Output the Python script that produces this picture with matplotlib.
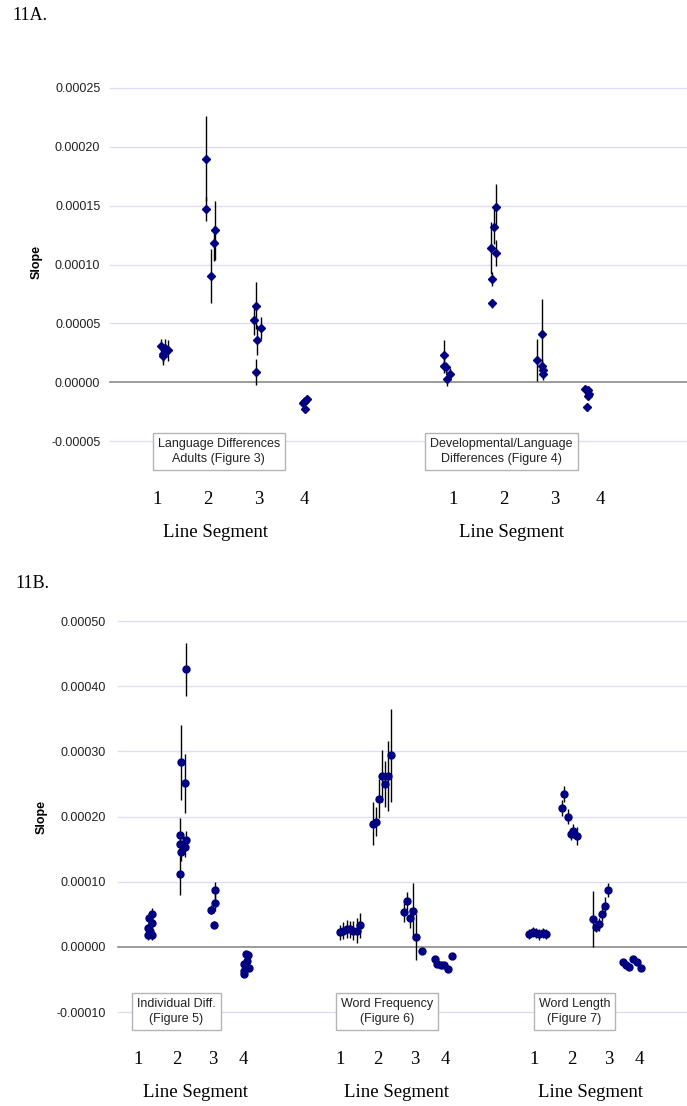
#!/usr/bin/env python3
"""Slope estimates per line segment with error bars (Figure 11A / 11B)."""
import numpy as np
import matplotlib
matplotlib.use("Agg")
import matplotlib.pyplot as plt
from matplotlib.ticker import FormatStrFormatter

plt.rcParams["font.family"] = ["Liberation Sans", "DejaVu Sans"]

# ---- 11A: language difference studies (x = line segment + jitter) ----
ADULT_X = [1.08, 1.13, 1.16, 1.22, 1.12,
           1.99, 2.01, 2.18, 2.16, 2.10,
           3.03, 2.97, 3.12, 3.05, 3.03,
           4.07, 4.03, 3.97, 4.03, 4.00]
ADULT_SLOPE = [3.1e-5, 2.4e-5, 2.9e-5, 2.7e-5, 2.2e-5,
               1.90e-4, 1.47e-4, 1.29e-4, 1.18e-4, 0.90e-4,
               6.5e-5, 5.3e-5, 4.6e-5, 3.6e-5, 0.9e-5,
               -1.4e-5, -1.6e-5, -1.8e-5, -2.3e-5, -1.7e-5]
ADULT_ERR = [0.6e-5, 0.7e-5, 0.8e-5, 0.9e-5, 0.7e-5,
             3.6e-5, 1.0e-5, 2.5e-5, 1.5e-5, 2.3e-5,
             2.0e-5, 1.3e-5, 0.9e-5, 1.3e-5, 1.1e-5,
             0.1e-5, 0.1e-5, 0.1e-5, 0.1e-5, 0.1e-5]

DEVEL_X = [6.86, 6.86, 6.90, 6.97, 6.92,
           7.92, 7.88, 7.82, 7.92, 7.84, 7.84,
           8.86, 8.76, 8.86, 8.87, 8.87,
           9.73, 9.79, 9.81, 9.80, 9.77]
DEVEL_SLOPE = [2.3e-5, 1.4e-5, 1.25e-5, 0.7e-5, 0.3e-5,
               1.49e-4, 1.32e-4, 1.14e-4, 1.10e-4, 0.88e-4, 0.67e-4,
               4.1e-5, 1.9e-5, 1.4e-5, 1.0e-5, 0.7e-5,
               -0.6e-5, -0.7e-5, -1.0e-5, -1.2e-5, -2.1e-5]
DEVEL_ERR = [1.3e-5, 0.6e-5, 0.5e-5, 0.5e-5, 0.6e-5,
             1.9e-5, 1.5e-5, 2.2e-5, 1.1e-5, 0.6e-5, 0.4e-5,
             3.0e-5, 1.8e-5, 0.6e-5, 0.5e-5, 0.5e-5,
             0.1e-5, 0.1e-5, 0.1e-5, 0.1e-5, 0.1e-5]

# ---- 11B: individual differences, word frequency, word length ----
INDIV_X = [1.38, 1.29, 1.38, 1.27, 1.36, 1.27, 1.32,
           2.31, 2.19, 2.28, 2.16, 2.31, 2.16, 2.28, 2.19, 2.16,
           3.11, 3.11, 3.02, 3.09,
           3.97, 4.03, 4.00, 3.93, 4.06, 3.93, 3.93]
INDIV_SLOPE = [5.1e-5, 4.4e-5, 3.6e-5, 2.9e-5, 1.8e-5, 1.8e-5, 2.5e-5,
               4.26e-4, 2.83e-4, 2.51e-4, 1.72e-4, 1.64e-4, 1.58e-4, 1.53e-4, 1.46e-4, 1.12e-4,
               8.7e-5, 6.8e-5, 5.7e-5, 3.4e-5,
               -1.1e-5, -1.3e-5, -2.1e-5, -2.7e-5, -3.3e-5, -3.7e-5, -4.2e-5]
INDIV_ERR = [0.8e-5, 0.8e-5, 0.8e-5, 0.8e-5, 0.8e-5, 0.8e-5, 0.8e-5,
             4.1e-5, 5.8e-5, 4.5e-5, 2.5e-5, 1.3e-5, 1.5e-5, 1.5e-5, 1.5e-5, 3.3e-5,
             1.3e-5, 1.3e-5, 0.7e-5, 0.5e-5,
             0.1e-5, 0.1e-5, 0.1e-5, 0.1e-5, 0.1e-5, 0.1e-5, 0.1e-5]

FREQ_X = [6.59, 6.69, 6.78, 6.87, 6.96, 7.06, 7.15,
          7.50, 7.59, 7.67, 7.75, 7.84, 7.93, 8.02,
          8.37, 8.45, 8.53, 8.62, 8.71, 8.88,
          9.23, 9.30, 9.39, 9.48, 9.60, 9.70]
FREQ_SLOPE = [2.2e-5, 2.5e-5, 2.7e-5, 2.7e-5, 2.5e-5, 2.5e-5, 3.3e-5,
              1.89e-4, 1.92e-4, 2.27e-4, 2.62e-4, 2.50e-4, 2.62e-4, 2.94e-4,
              5.3e-5, 7.0e-5, 4.4e-5, 5.5e-5, 1.5e-5, -0.7e-5,
              -1.8e-5, -2.6e-5, -2.8e-5, -2.8e-5, -3.4e-5, -1.4e-5]
FREQ_ERR = [1.1e-5, 1.3e-5, 1.4e-5, 1.3e-5, 1.5e-5, 1.9e-5, 1.9e-5,
            3.3e-5, 2.2e-5, 3.0e-5, 4.0e-5, 3.5e-5, 5.4e-5, 7.1e-5,
            1.5e-5, 1.4e-5, 1.5e-5, 4.3e-5, 3.5e-5, 0.0,
            0.0, 0.0, 0.0, 0.0, 0.0, 0.0]

LENGTH_X = [11.85, 11.95, 12.04, 12.13, 12.23, 12.32,
            12.75, 12.83, 12.92, 13.01, 13.07, 13.19,
            13.61, 13.70, 13.78, 13.87, 13.96, 14.05,
            14.46, 14.54, 14.62, 14.74, 14.84, 14.95]
LENGTH_SLOPE = [2.0e-5, 2.3e-5, 2.1e-5, 1.9e-5, 2.1e-5, 2.0e-5,
                2.13e-4, 2.35e-4, 2.00e-4, 1.73e-4, 1.78e-4, 1.70e-4,
                4.2e-5, 3.0e-5, 3.5e-5, 5.0e-5, 6.2e-5, 8.7e-5,
                -2.4e-5, -2.8e-5, -3.1e-5, -1.8e-5, -2.4e-5, -3.3e-5]
LENGTH_ERR = [0.8e-5, 0.8e-5, 0.8e-5, 0.8e-5, 0.8e-5, 0.8e-5,
              1.2e-5, 1.2e-5, 1.1e-5, 0.9e-5, 1.1e-5, 1.4e-5,
              4.3e-5, 0.8e-5, 1.0e-5, 1.0e-5, 1.5e-5, 1.1e-5,
              0.0, 0.0, 0.0, 0.0, 0.0, 0.0]

SEGMENTS = ["1", "2", "3", "4"]
LABELS_A = ["Language Differences\nAdults (Figure 3)",
            "Developmental/Language\nDifferences (Figure 4)"]
LABELS_B = ["Individual Diff.\n(Figure 5)", "Word Frequency\n(Figure 6)",
            "Word Length\n(Figure 7)"]

NAVY = "#000080"
GRID = "#dcdcf6"
W, H = 687, 1106
SERIF = ["Liberation Serif", "DejaVu Serif"]

fig = plt.figure(figsize=(W / 100, H / 100), dpi=100)


def px_axes(left, top, right, bottom):
    return fig.add_axes([left / W, 1 - bottom / H, (right - left) / W, (bottom - top) / H])


def style_axes(ax, ticks, pad):
    ax.set_yticks(ticks)
    ax.yaxis.set_major_formatter(FormatStrFormatter("%.5f"))
    ax.tick_params(axis="y", length=0, pad=pad, labelsize=9, labelcolor="#222222")
    ax.set_xticks([])
    for s in ax.spines.values():
        s.set_visible(False)
    for t in ticks:
        if t == 0:
            ax.axhline(0, color="#8a8a8a", lw=1.2, zorder=1, clip_on=False)
        else:
            ax.axhline(t, color=GRID, lw=1.0, zorder=0, clip_on=False)


def draw_group(ax, x, y, err, marker, ms):
    ax.errorbar(x, y, yerr=err, fmt=marker, ms=ms, color=NAVY, mec=NAVY,
                ecolor="black", elinewidth=1.0, capsize=0, zorder=3, clip_on=False)


def label_box(ax, x, y, text):
    ax.text(x, y, text, ha="center", va="center", fontsize=9, linespacing=1.3,
            color="#222222", zorder=4,
            bbox=dict(boxstyle="square,pad=0.4", fc="white", ec="#b4b4b4", lw=1.0))


def segment_labels(ax, starts, offsets, title_off, y_ticks, y_title):
    for x0 in starts:
        for off, lab in zip(offsets, SEGMENTS):
            ax.text(x0 + off, y_ticks, lab, ha="center", va="center",
                    fontsize=13.5, family=SERIF, clip_on=False)
        ax.text(x0 + title_off, y_title, "Line Segment", ha="center",
                va="center", fontsize=13.5, family=SERIF, clip_on=False)


# ---------------- 11A ----------------
axA = px_axes(110, 88, 687, 441)
axA.set_xlim(0.041, 11.816)
axA.set_ylim(-0.00005, 0.00025)
style_axes(axA, np.arange(-0.00005, 0.000251, 0.00005).round(6), pad=7)
draw_group(axA, ADULT_X, ADULT_SLOPE, ADULT_ERR, "D", 4.2)
draw_group(axA, DEVEL_X, DEVEL_SLOPE, DEVEL_ERR, "D", 4.2)
label_box(axA, 2.26, -5.87e-5, LABELS_A[0])
label_box(axA, 8.03, -5.87e-5, LABELS_A[1])
segment_labels(axA, [1.0, 7.04], [0, 1.04, 2.08, 3.0], 1.19, -1.0e-4, -1.28e-4)

fig.text(37 / W, 1 - 262 / H, "Slope", rotation=90, ha="center", va="center",
         fontsize=9, fontweight="bold")
fig.text(12 / W, 1 - 16 / H, "11A.", ha="left", va="center", fontsize=13, family=SERIF)

# ---------------- 11B ----------------
axB = px_axes(118, 621, 687, 1012)
axB.set_xlim(0.428, 16.233)
axB.set_ylim(-0.0001, 0.0005)
style_axes(axB, np.arange(-0.0001, 0.000501, 0.0001).round(6), pad=9)
draw_group(axB, INDIV_X, INDIV_SLOPE, INDIV_ERR, "o", 5)
draw_group(axB, FREQ_X, FREQ_SLOPE, FREQ_ERR, "o", 5)
draw_group(axB, LENGTH_X, LENGTH_SLOPE, LENGTH_ERR, "o", 5)
label_box(axB, 2.05, -0.99e-4, LABELS_B[0])
label_box(axB, 7.90, -0.99e-4, LABELS_B[1])
label_box(axB, 13.11, -0.99e-4, LABELS_B[2])
segment_labels(axB, [1.0, 6.59, 11.98], [0, 1.06, 2.07, 2.92], 1.58, -1.733e-4, -2.24e-4)

fig.text(42 / W, 1 - 817 / H, "Slope", rotation=90, ha="center", va="center",
         fontsize=9, fontweight="bold")
fig.text(15 / W, 1 - 584 / H, "11B.", ha="left", va="center", fontsize=13, family=SERIF)

fig.savefig("out.png", dpi=100, facecolor="white")
